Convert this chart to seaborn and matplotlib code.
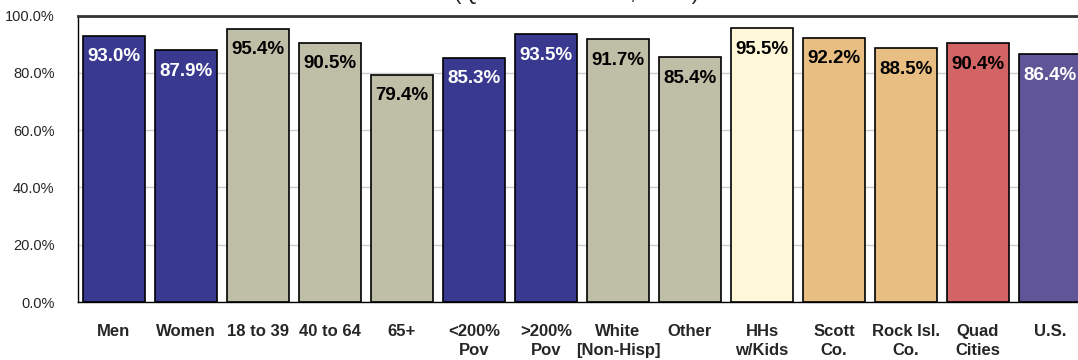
import matplotlib
matplotlib.use("Agg")
import matplotlib.pyplot as plt
import seaborn as sns
import pandas as pd

# chart data
categories = ["Men", "Women", "18 to 39", "40 to 64", "65+", "<200%\nPov", ">200%\nPov",
              "White\n[Non-Hisp]", "Other", "HHs\nw/Kids", "Scott\nCo.", "Rock Isl.\nCo.",
              "Quad\nCities", "U.S."]
values = [93.0, 87.9, 95.4, 90.5, 79.4, 85.3, 93.5, 91.7, 85.4, 95.5, 92.2, 88.5, 90.4, 86.4]
bar_colors = ["#393A8F", "#393A8F", "#BFBFA8", "#BFBFA8", "#BFBFA8", "#393A8F", "#393A8F",
              "#BFBFA8", "#BFBFA8", "#FFF8D8", "#E8BE82", "#E8BE82", "#D26466", "#5F5597"]
label_colors = ["white", "white", "black", "black", "black", "white", "white",
                "black", "black", "black", "black", "black", "black", "white"]
yticks = [0, 20, 40, 60, 80, 100]

sns.set_style("white")
plt.rcParams["font.family"] = ["Liberation Sans", "DejaVu Sans"]

df = pd.DataFrame({"cat": categories, "val": values})

fig = plt.figure(figsize=(10.78, 3.6), dpi=100)
ax = fig.add_axes([78 / 1078, 1 - 302 / 360, 1008 / 1078, (302 - 15.5) / 360])

sns.barplot(data=df, x="cat", y="val", hue="cat", palette=bar_colors, legend=False,
            saturation=1, width=0.86, edgecolor="black", linewidth=1.2, ax=ax, zorder=3)

ax.set_ylim(0, 100)
ax.set_xlim(-0.5, len(categories) - 0.5)
ax.set_yticks(yticks)
ax.set_yticklabels([f"{t:.1f}%" for t in yticks], fontsize=10.5)
ax.set_xticks(range(len(categories)))
ax.set_xticklabels(categories, fontsize=12, fontweight="bold", va="top", linespacing=1.3)
ax.tick_params(axis="x", length=0, pad=16)
ax.tick_params(axis="y", length=0, pad=17)
ax.set_xlabel("")
ax.set_ylabel("")
ax.yaxis.grid(True, color="#CCCCCC", linewidth=1, zorder=0)
ax.set_axisbelow(True)

for s in ["left", "bottom"]:
    ax.spines[s].set_color("black")
    ax.spines[s].set_linewidth(1)
ax.spines["top"].set_color("#333333")
ax.spines["top"].set_linewidth(2)
ax.spines["right"].set_visible(False)

for i, v in enumerate(values):
    ax.annotate(f"{v:.1f}%", (i, v), xytext=(0, -9), textcoords="offset points",
                ha="center", va="top", fontsize=13.5, fontweight="bold",
                color=label_colors[i], zorder=5)

# title mostly cut off at the top edge of the image
fig.text(577 / 1078, 1 + 0.5 / 360, "(Quad Cities Area, 2015)", ha="center", va="baseline",
         fontsize=16, color="#222222")

fig.savefig("out.png", dpi=100)
